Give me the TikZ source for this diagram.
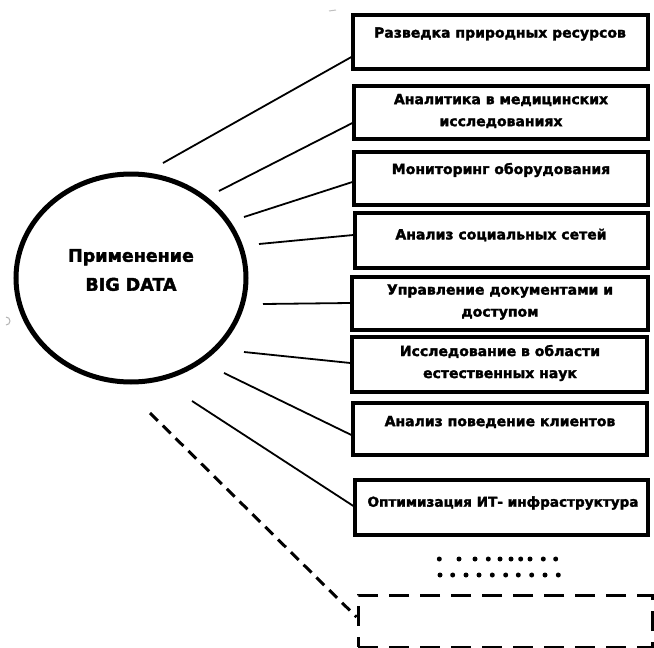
\documentclass[tikz,border=0pt]{standalone}
\usepackage{fontspec}
\setmainfont{DejaVu Sans}
\newfontfamily\heavy{DejaVu Sans Bold}[FakeBold=2]
\begin{document}
\begin{tikzpicture}[x=1pt,y=-1pt,
  boxst/.style={draw,line width=3.2pt,inner sep=0pt},
  lbl/.style={font=\heavy\fontsize{14}{22}\selectfont,align=center,inner sep=0pt},
  conn/.style={line width=1.8pt},
  dotst/.style={fill=black,circle,inner sep=0pt,minimum size=5pt}]
\useasboundingbox (0,0) rectangle (654,648);
% centre
\draw[line width=5pt] (131,278) ellipse [x radius=115, y radius=104];
\node[font=\heavy\fontsize{17.5}{29}\selectfont,align=center,inner sep=0pt] (c) at (131,270) {Применение\\BIG DATA};
% boxes
\node[boxst,minimum width=295pt,minimum height=54pt] (b1) at (500.5,42) {};
\node[boxst,minimum width=294pt,minimum height=53pt] (b2) at (501,112.5) {};
\node[boxst,minimum width=294pt,minimum height=53pt] (b3) at (501,178.5) {};
\node[boxst,minimum width=293pt,minimum height=55pt] (b4) at (501.5,240.5) {};
\node[boxst,minimum width=296pt,minimum height=53pt] (b5) at (500,303.5) {};
\node[boxst,minimum width=295pt,minimum height=55pt] (b6) at (499.5,364.5) {};
\node[boxst,minimum width=294pt,minimum height=52pt] (b7) at (500,429) {};
\node[boxst,minimum width=293pt,minimum height=55pt] (b8) at (501.5,507.5) {};
\node[draw,line width=3pt,dash pattern=on 20pt off 11pt,inner sep=0pt,minimum width=294pt,minimum height=52pt] (b9) at (505,621) {};
% texts
\node[lbl] (t1) at (500,34) {Разведка природных ресурсов};
\node[lbl] (t2) at (501,111) {Аналитика в медицинских\\исследованиях};
\node[lbl] (t3) at (501,170) {Мониторинг оборудования};
\node[lbl] (t4) at (501,235) {Анализ социальных сетей};
\node[lbl] (t5) at (500,302) {Управление документами и\\доступом};
\node[lbl] (t6) at (500,363) {Исследование в области\\естественных наук};
\node[lbl] (t7) at (500,422) {Анализ поведение клиентов};
\node[lbl,font=\heavy\fontsize{13.6}{22}\selectfont] (t8) at (503,503) {Оптимизация ИТ- инфраструктура};
% connector free ends
\coordinate (s1) at (163,163);
\coordinate (s2) at (219,191);
\coordinate (s3) at (244,217);
\coordinate (s4) at (259,244);
\coordinate (s5) at (263,304);
\coordinate (s6) at (244,352);
\coordinate (s7) at (224,373);
\coordinate (s8) at (192,401);
\coordinate (s9) at (150,413);
\draw[conn] (s1) -- (b1.west |- 0,57);
\draw[conn] (s2) -- (b2.west |- 0,123);
\draw[conn] (s3) -- (b3.west |- 0,182);
\draw[conn] (s4) -- (b4.west |- 0,235);
\draw[conn] (s5) -- (b5.west |- 0,303);
\draw[conn] (s6) -- (b6.west |- 0,363);
\draw[conn] (s7) -- (b7.west |- 0,435);
\draw[conn] (s8) -- (b8.west |- 0,506);
\draw[line width=3pt,dash pattern=on 11pt off 7pt] (s9) -- (b9.west |- 0,617);
% dots
\foreach \x [count=\i] in {439.3,459,475,488.3,500,511,520.7,530,543.3,555.7}
  \node[dotst] (da\i) at (\x,559) {};
\foreach \x [count=\i] in {440,452.7,466,479,492.3,505.7,518.3,531.7,545,558.3}
  \node[dotst] (db\i) at (\x,575) {};
% faint artefacts
\draw[gray!50,line width=1pt] (329,11) -- (336,10);
\draw[gray!60,line width=1pt] (6,325) arc[start angle=90,end angle=-90,radius=4];
\end{tikzpicture}
\end{document}
